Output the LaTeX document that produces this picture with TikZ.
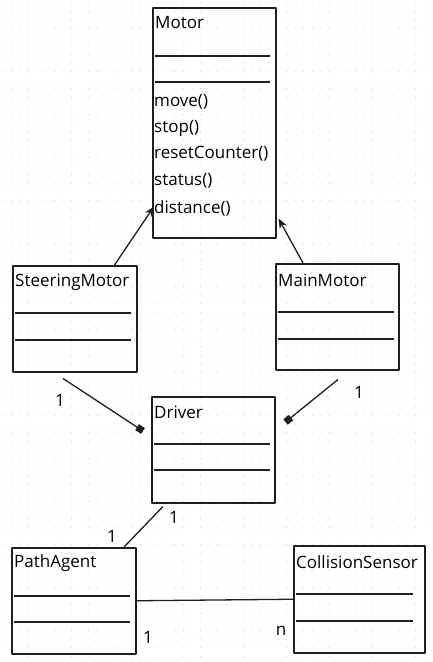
\documentclass[tikz,border=0pt]{standalone}
\usepackage{fontspec}
\setmainfont{Open Sans}
\usetikzlibrary{arrows.meta,calc}
\definecolor{ink}{RGB}{30,30,30}
\tikzset{
  cls/.style={draw=ink,line width=1.5pt,anchor=north west,inner sep=0pt},
  sep/.style={draw=ink,line width=1.2pt},
  txt/.style={anchor=west,inner sep=0pt,text=black},
  conn/.style={draw=ink,line width=1.3pt}
}
\begin{document}
\begin{tikzpicture}[x=1pt,y=-1pt,font=\fontsize{17}{20}\selectfont,line join=round]
  \useasboundingbox (0,0) rectangle (432,662);
  % dotted background
  \foreach \i in {0,...,49}
    \foreach \j in {0,...,76}
      \fill[black!20] (2.7+8.6*\i,2.7+8.6*\j) circle (0.5pt);
  % classes
  \node[cls,minimum width=123pt,minimum height=230pt] (motor) at (152,7) {};
  \node[cls,minimum width=124pt,minimum height=106pt] (steering) at (12,265) {};
  \node[cls,minimum width=123pt,minimum height=106pt] (mainmotor) at (275,263) {};
  \node[cls,minimum width=123pt,minimum height=106pt] (driver) at (151,396) {};
  \node[cls,minimum width=124pt,minimum height=106pt] (pathagent) at (11,547) {};
  \node[cls,minimum width=131pt,minimum height=107pt] (collision) at (293,545) {};
  % class names
  \node[txt] (motorname) at (155,23) {Motor};
  \node[txt] (steeringname) at (15,282) {SteeringMotor};
  \node[txt] (mainmotorname) at (278,280) {MainMotor};
  \node[txt] (drivername) at (154,412) {Driver};
  \node[txt] (pathagentname) at (14,563) {PathAgent};
  \node[txt] (collisionname) at (296,562) {CollisionSensor};
  % methods of Motor
  \foreach \m/\y [count=\k] in {move()/102,stop()/128,resetCounter()/154,status()/181,distance()/208}
    \node[txt] (meth\k) at (154,\y) {\m};
  % separators
  \foreach \y in {56,82} \draw[sep] (155,\y) -- (270,\y);
  \foreach \y in {313,340} \draw[sep] (15,\y) -- (131,\y);
  \foreach \y in {312,339} \draw[sep] (278,\y) -- (394,\y);
  \foreach \y in {444,470} \draw[sep] (154,\y) -- (270,\y);
  \foreach \y in {596,622} \draw[sep] (14,\y) -- (130,\y);
  \foreach \y in {594,621} \draw[sep] (296,\y) -- (413,\y);
  % inheritance
  \draw[conn,-{Stealth[length=10pt,width=8pt]}] ([xshift=-23pt]steering.north east) -- ([shift={(2pt,32pt)}]motor.south west);
  \draw[conn,-{Stealth[length=10pt,width=8pt]}] ([xshift=28pt]mainmotor.north west) -- ([shift={(2pt,20pt)}]motor.south east);
  % associations
  \draw[conn,-{Square[length=7pt,width=7pt]}] ([shift={(51pt,-6pt)}]steering.south west) -- ([shift={(-8pt,-35pt)}]driver.north west);
  \draw[conn,-{Square[length=7pt,width=7pt]}] ([shift={(63pt,-9pt)}]mainmotor.south west) -- ([shift={(10pt,-26pt)}]driver.north east);
  \draw[conn] ([shift={(12pt,-3pt)}]driver.south west) -- ([xshift=113pt]pathagent.north west);
  \draw[conn] (pathagent.east) -- (collision.west);
  % multiplicities
  \foreach \p/\t/\l in {60/400/1,359/392/1,174/517/1,112/536/1,148/637/1,281/631/n}
    \node[text=black,inner sep=0pt] (mult\p) at (\p,\t) {\l};
\end{tikzpicture}
\end{document}
